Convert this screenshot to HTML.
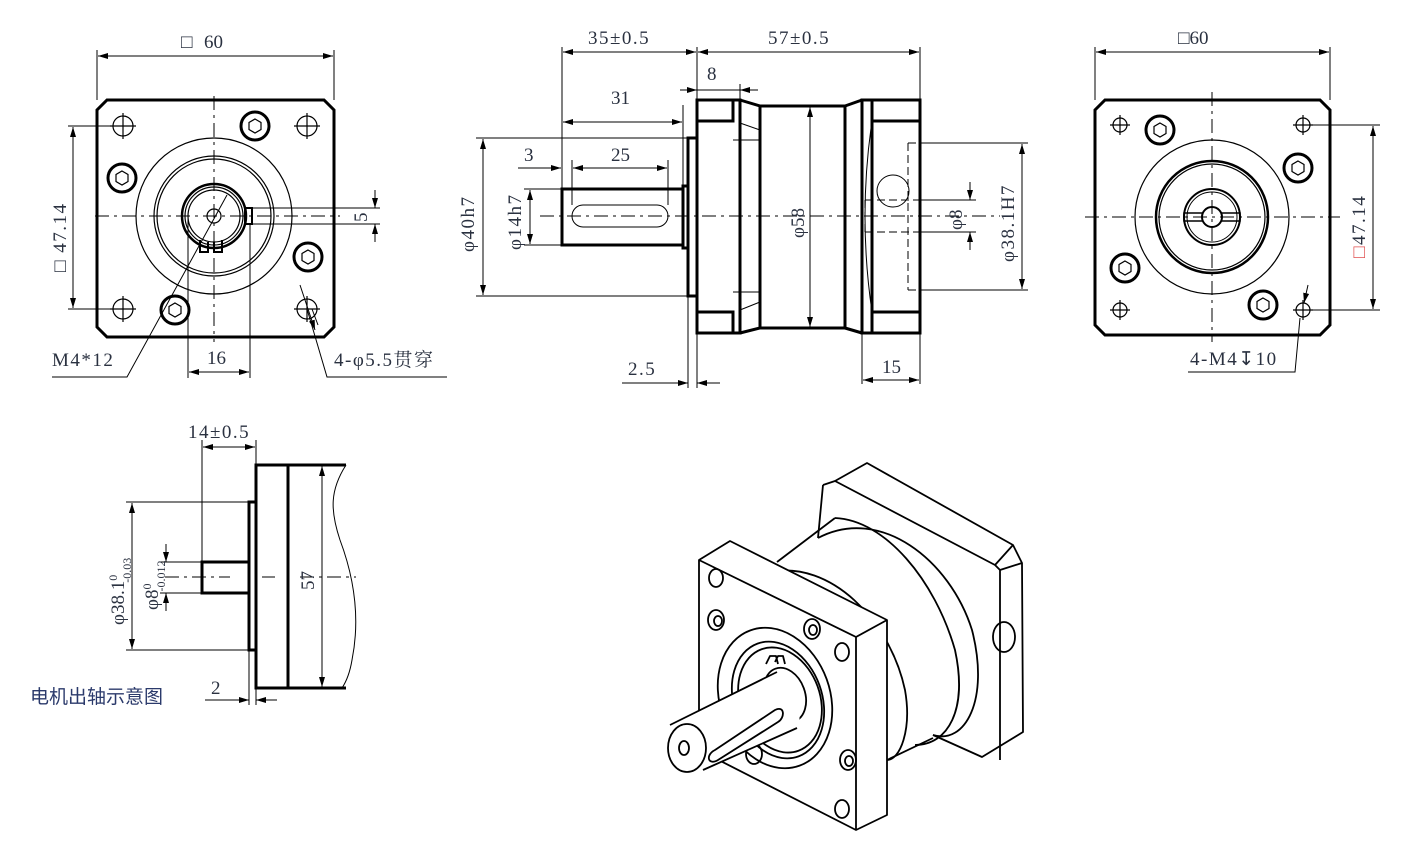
<!DOCTYPE html>
<html><head><meta charset="utf-8"><style>
html,body{margin:0;padding:0;background:#fff;}
svg{display:block;}
text{font-family:"Liberation Serif","Noto Serif CJK SC",serif;fill:#2a3140;font-size:19px;}
.w{letter-spacing:1.5px;}
.t{font-family:"Liberation Serif","Noto Sans CJK SC",serif;}
</style></head><body>
<svg width="1418" height="856" viewBox="0 0 1418 856" xmlns="http://www.w3.org/2000/svg">
<defs>
<marker id="a" viewBox="0 0 10 6" refX="10" refY="3" markerWidth="10" markerHeight="6" markerUnits="userSpaceOnUse" orient="auto-start-reverse"><path d="M0,0 L10,3 L0,6 z" fill="#000"/></marker>
</defs>
<g fill="none" stroke="#000" stroke-width="1">
<!-- ============ LEFT VIEW ============ -->
<path d="M107,100 L324,100 L334,110 L334,327 L324,337 L107,337 L97,327 L97,110 Z" stroke-width="3"/>
<g stroke-width="1.2">
<circle cx="123" cy="126" r="10"/><circle cx="307" cy="126" r="10"/><circle cx="123" cy="309" r="10"/><circle cx="307" cy="309" r="10"/>
<path d="M110,126h26M123,113v26M294,126h26M307,113v26M110,309h26M123,296v26M294,309h26M307,296v26"/>
<circle cx="214" cy="216" r="78"/><circle cx="214" cy="216" r="60"/><circle cx="214" cy="216" r="57"/>
<circle cx="214" cy="216" r="32" stroke-width="2.5"/><circle cx="214" cy="216" r="29"/><circle cx="214" cy="216" r="26"/>
<circle cx="214" cy="216" r="7"/>
<rect x="245" y="208" width="7" height="16" stroke-width="2"/>
<path d="M200,240 v12 h8 v-10 M214,242 v10 h8 v-12" stroke-width="2"/>
</g>
<g stroke-width="3"><circle cx="255" cy="126" r="14"/><circle cx="122" cy="178" r="14"/><circle cx="308" cy="257" r="14"/><circle cx="175" cy="310" r="14"/></g>
<g stroke-width="1.2"><polygon points="255,119 261,122.5 261,129.5 255,133 249,129.5 249,122.5"/><polygon points="122,171 128,174.5 128,181.5 122,185 116,181.5 116,174.5"/><polygon points="308,250 314,253.5 314,260.5 308,264 302,260.5 302,253.5"/><polygon points="175,303 181,306.5 181,313.5 175,317 169,313.5 169,306.5"/></g>
<path d="M95,216 H340 M214,96 V342" stroke-dasharray="14,5,3,5"/>
<path d="M97,100 V50 M334,100 V50"/><path d="M98,56 H333" marker-start="url(#a)" marker-end="url(#a)"/>
<path d="M68,126 H110 M68,309 H110"/><path d="M73,127 V308" marker-start="url(#a)" marker-end="url(#a)"/>
<path d="M252,208 H380 M252,224 H380"/><path d="M375,190 V208" marker-end="url(#a)"/><path d="M375,242 V224" marker-end="url(#a)"/>
<path d="M188,216 V378 M250,224 V378"/><path d="M189,372 H249" marker-start="url(#a)" marker-end="url(#a)"/>
<path d="M227,195 L127,377 H52"/>
<path d="M300,285 L315,330" marker-end="url(#a)"/><path d="M307,309 L327,377 H447"/><path d="M318,325 L312,309"/>
<!-- ============ MIDDLE VIEW ============ -->
<g stroke-width="3">
<rect x="562" y="189" width="121" height="56"/>
<rect x="683" y="186" width="5" height="62"/>
<rect x="688" y="138" width="9" height="158"/>
<rect x="697" y="100" width="43" height="233"/>
<path d="M697,121 H733 V100 M697,312 H733 V333"/>
<path d="M733,100 H740 M740,100 L760,106 V328 L740,333"/>
<path d="M760,106 H845 V328 H760 M845,106 L862,100 M845,328 L862,333"/>
<rect x="862" y="100" width="58" height="233"/>
<path d="M872,100 V333 M872,121 H920 M872,312 H920"/>
</g>
<path d="M733,140 H760 M733,292 H760 M740,140 V292 M740,123 L760,130 M740,310 L760,302 M872,121 Q858,216 872,312"/>
<rect x="572" y="205" width="96" height="22" rx="11"/>
<circle cx="893" cy="191" r="16"/>
<path d="M908,143 H920 M908,290 H920 M908,143 V290 M865,200 H920 M865,232 H920 M865,200 V232" stroke-dasharray="8,4"/>
<path d="M540,216 H1000" stroke-dasharray="14,5,3,5"/>
<path d="M810,107 V327" marker-start="url(#a)" marker-end="url(#a)"/>
<path d="M562,189 V47 M697,100 V47 M920,100 V47"/>
<path d="M563,52 H696" marker-start="url(#a)" marker-end="url(#a)"/><path d="M698,52 H919" marker-start="url(#a)" marker-end="url(#a)"/>
<path d="M740,100 V84"/><path d="M680,90 H697" marker-end="url(#a)"/><path d="M758,90 H740" marker-end="url(#a)"/><path d="M697,90 H740"/>
<path d="M683,186 V105"/><path d="M563,122 H682" marker-start="url(#a)" marker-end="url(#a)"/>
<path d="M518,168 H561" marker-end="url(#a)"/><path d="M572,205 V160 M668,205 V160"/><path d="M573,168 H667" marker-start="url(#a)" marker-end="url(#a)"/>
<path d="M476,138 H688 M476,296 H688"/><path d="M483,139 V295" marker-start="url(#a)" marker-end="url(#a)"/>
<path d="M524,189 H562 M524,245 H562"/><path d="M530,190 V244" marker-start="url(#a)" marker-end="url(#a)"/>
<path d="M920,143 H1028 M920,290 H1028"/><path d="M1022,144 V289" marker-start="url(#a)" marker-end="url(#a)"/>
<path d="M920,200 H976 M920,232 H976"/><path d="M970,182 V200" marker-end="url(#a)"/><path d="M970,250 V232" marker-end="url(#a)"/>
<path d="M688,296 V388 M697,333 V388"/><path d="M622,383 H688" marker-end="url(#a)"/><path d="M720,383 H697" marker-end="url(#a)"/>
<path d="M862,333 V384 M920,333 V384"/><path d="M863,380 H919" marker-start="url(#a)" marker-end="url(#a)"/>
<!-- ============ RIGHT VIEW ============ -->
<path d="M1105,100 L1320,100 L1330,110 L1330,325 L1320,335 L1105,335 L1095,325 L1095,110 Z" stroke-width="3"/>
<circle cx="1212" cy="217" r="77" stroke-width="1.2"/>
<circle cx="1212" cy="217" r="56" stroke-width="2.5"/>
<circle cx="1212" cy="217" r="53" stroke-width="1.2"/>
<circle cx="1212" cy="217" r="28" stroke-width="2"/>
<circle cx="1212" cy="217" r="25" stroke-width="1"/>
<rect x="1184" y="213" width="56" height="8" stroke-width="1.5"/>
<circle cx="1212" cy="217" r="10" stroke-width="2" fill="#fff"/>
<g stroke-width="1.2"><circle cx="1120" cy="125" r="7"/><circle cx="1303" cy="125" r="7"/><circle cx="1120" cy="310" r="7"/><circle cx="1303" cy="310" r="7"/>
<path d="M1110,125h20M1120,115v20M1293,125h20M1303,115v20M1110,310h20M1120,300v20M1293,310h20M1303,300v20"/></g>
<g stroke-width="3"><circle cx="1160" cy="130" r="14"/><circle cx="1298" cy="168" r="14"/><circle cx="1125" cy="268" r="14"/><circle cx="1263" cy="305" r="14"/></g>
<g stroke-width="1.2"><polygon points="1160,123 1166,126.5 1166,133.5 1160,137 1154,133.5 1154,126.5"/><polygon points="1298,161 1304,164.5 1304,171.5 1298,175 1292,171.5 1292,164.5"/><polygon points="1125,261 1131,264.5 1131,271.5 1125,275 1119,271.5 1119,264.5"/><polygon points="1263,298 1269,301.5 1269,308.5 1263,312 1257,308.5 1257,301.5"/></g>
<path d="M1085,217 H1340 M1212,92 V342" stroke-dasharray="14,5,3,5"/>
<path d="M1095,100 V47 M1330,100 V47"/><path d="M1096,52 H1329" marker-start="url(#a)" marker-end="url(#a)"/>
<path d="M1303,125 H1380 M1303,310 H1380"/><path d="M1373,126 V309" marker-start="url(#a)" marker-end="url(#a)"/>
<path d="M1308,285 L1304,303" marker-end="url(#a)"/><path d="M1300,318 L1295,372 H1188"/>
<!-- ============ MOTOR SHAFT VIEW ============ -->
<g stroke-width="3">
<path d="M346,465 H256 V688 H346"/><path d="M288,465 V688"/>
<rect x="249" y="502" width="7" height="148"/>
<rect x="202" y="562" width="47" height="31"/>
</g>
<path d="M346,465 C330,490 330,510 340,540 C355,580 360,620 352,660 C350,672 346,682 342,688" stroke-width="1"/>
<path d="M165,577 H230 M262,577 H275 M300,577 H356" stroke-dasharray="14,5,3,5"/>
<path d="M202,562 V440 M256,465 V440"/><path d="M203,447 H255" marker-start="url(#a)" marker-end="url(#a)"/>
<path d="M126,502 H249 M126,650 H249"/><path d="M132,503 V649" marker-start="url(#a)" marker-end="url(#a)"/>
<path d="M160,562 H202 M160,593 H202"/><path d="M166,544 V562" marker-end="url(#a)"/><path d="M166,611 V593" marker-end="url(#a)"/>
<path d="M322,466 V687" marker-start="url(#a)" marker-end="url(#a)"/>
<path d="M249,650 V705 M256,688 V705"/><path d="M205,700 H249" marker-end="url(#a)"/><path d="M277,700 H256" marker-end="url(#a)"/>
<!-- ============ ISOMETRIC ============ -->
<g stroke-width="1.8" stroke-linejoin="round">
<path d="M823,485 L835,481 L867,463 L1013,545 L1022,563 L1023,732 L982,757 L933,735"/>
<path d="M835,481 L995,565 L1013,545 M995,565 L1000,570 L1022,563 M1000,570 V760"/>
<path d="M823,485 L818,538"/>
<ellipse cx="1004" cy="637" rx="11" ry="15"/>
<path d="M818,538 C880,505 950,560 972,630 C990,700 965,745 933,735"/>
<path d="M835,518 C885,520 935,580 955,650 C968,710 948,745 915,745"/>
<path d="M777,562 L835,518"/>
<path d="M770,572 C830,560 890,620 905,690 C912,730 900,760 887,760"/>
<path d="M887,760 L933,738"/>
<path d="M699,560 L730,541 L887,620 L887,815 L856,830 L699,750 Z" fill="#fff"/>
<path d="M699,560 L856,637 L887,620 M856,637 V830"/>
<ellipse cx="716" cy="578" rx="7" ry="9"/><ellipse cx="842" cy="652" rx="7" ry="9"/><ellipse cx="716" cy="620" rx="8" ry="10"/><ellipse cx="842" cy="809" rx="7" ry="9"/>
<ellipse cx="812" cy="629" rx="8" ry="10"/><ellipse cx="848" cy="760" rx="8" ry="10"/><ellipse cx="754" cy="754" rx="8" ry="10"/>
<ellipse cx="718" cy="621" rx="4" ry="5"/><ellipse cx="813" cy="630" rx="4" ry="5"/><ellipse cx="849" cy="761" rx="4" ry="5"/>
<ellipse cx="775" cy="698" rx="55" ry="72" transform="rotate(-20 775 698)"/>
<ellipse cx="778" cy="700" rx="44" ry="60" transform="rotate(-20 778 700)"/>
<ellipse cx="780" cy="700" rx="40" ry="54" transform="rotate(-20 780 700)"/>
<ellipse cx="785" cy="695" rx="20" ry="28" transform="rotate(-20 785 695)"/>
<path d="M766,664 l4,-8 h6 l2,8 M775,662 l3,-6 h5 l2,8"/>
<path d="M670,725 L777,672 C800,670 803,720 797,728 L703,770 Z" fill="#fff" stroke="none"/>
<path d="M670,725 L777,672 M703,770 L797,728"/>
<ellipse cx="687" cy="748" rx="19" ry="24" fill="#fff"/>
<ellipse cx="684" cy="748" rx="5" ry="7"/>
<path d="M715,750 L775,710 C785,705 785,718 778,722 L718,760 C708,766 705,755 715,750 Z"/>
</g>
</g>
<!-- TEXT -->
<text x="181" y="48">□</text><text x="204" y="48">60</text>
<text x="1178" y="44">□60</text>
<text x="66" y="272" transform="rotate(-90 66 272)" class="w">□ 47.14</text>
<text x="1365" y="258" transform="rotate(-90 1365 258)" class="w"><tspan fill="#e05050">□</tspan>47.14</text>
<text x="367" y="222" transform="rotate(-90 367 222)" font-size="17">5</text>
<text x="207" y="364">16</text>
<text x="52" y="366" font-size="18" class="w">M4*12</text>
<text x="334" y="366" font-size="18" class="w">4-φ5.5贯穿</text>
<text x="588" y="44" class="w">35±0.5</text>
<text x="768" y="44" class="w">57±0.5</text>
<text x="707" y="80">8</text>
<text x="611" y="104">31</text>
<text x="524" y="161">3</text>
<text x="611" y="161">25</text>
<text x="474" y="252" transform="rotate(-90 474 252)" class="w">φ40h7</text>
<text x="521" y="250" transform="rotate(-90 521 250)" class="w">φ14h7</text>
<text x="804" y="238" transform="rotate(-90 804 238)">φ58</text>
<text x="962" y="230" transform="rotate(-90 962 230)">φ8</text>
<text x="1014" y="262" transform="rotate(-90 1014 262)" class="w">φ38.1H7</text>
<text x="628" y="375" class="w">2.5</text>
<text x="882" y="373">15</text>
<text x="1190" y="365" font-size="18" class="w">4-M4↧10</text>
<text x="188" y="438" class="w">14±0.5</text>
<text x="314" y="590" transform="rotate(-90 314 590)">57</text>
<text x="211" y="694">2</text>
<text x="124" y="625" transform="rotate(-90 124 625)" font-size="16">φ38.1<tspan font-size="12" dy="-7">0</tspan><tspan font-size="12" dx="-8" dy="14">-0.03</tspan></text>
<text x="158" y="610" transform="rotate(-90 158 610)" font-size="16">φ8<tspan font-size="12" dy="-7">0</tspan><tspan font-size="12" dx="-8" dy="14">-0.012</tspan></text>
<text x="30" y="703" class="t" style="fill:#2b3a6b" font-size="18">电机出轴示意图</text>
</svg>
</body></html>
